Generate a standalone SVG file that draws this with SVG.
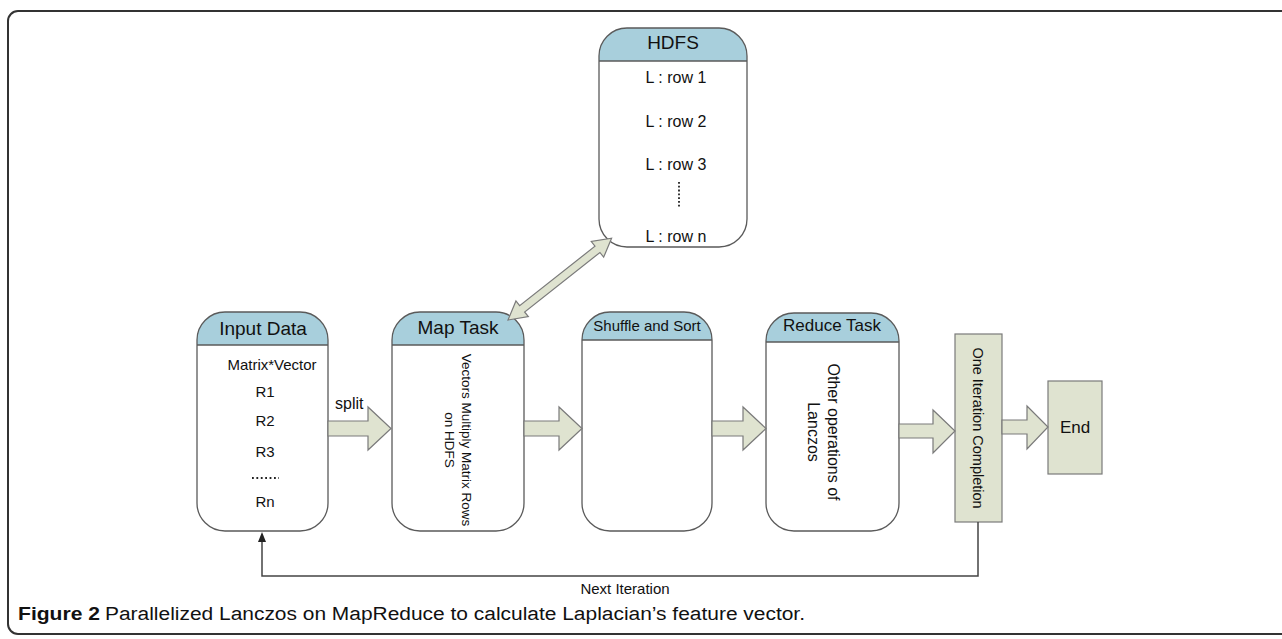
<svg xmlns="http://www.w3.org/2000/svg" width="1282" height="639" viewBox="0 0 1282 639">
<style>
.body{fill:#ffffff;stroke:none}
.hdr{fill:#a8cfdc;stroke:none}
.outline{fill:none;stroke:#5a5a5a;stroke-width:1.3}
.hline{stroke:#5a5a5a;stroke-width:1.3}
.blk{fill:#dfe3d0;stroke:#7a7a7a;stroke-width:1.2}
.t{font-family:"Liberation Sans",Arial,sans-serif;fill:#111}
.mid{text-anchor:middle}
.frame{fill:none;stroke:#333;stroke-width:2}
.conn{fill:none;stroke:#444;stroke-width:1.5}
</style>
<path class="frame" d="M1282,11 H18 A10,10 0 0 0 8,21 V624 A10,10 0 0 0 18,634 H1282"/>

<g id="hdfs">
<path class="body" d="M627,28 H719 A28,28 0 0 1 747,56 V219 A28,28 0 0 1 719,247 H627 A28,28 0 0 1 599,219 V56 A28,28 0 0 1 627,28 Z"/>
<path class="hdr" d="M599,61 V56 A28,28 0 0 1 627,28 H719 A28,28 0 0 1 747,56 V61 Z"/>
<line class="hline" x1="599" y1="61" x2="747" y2="61"/>
<path class="outline" d="M627,28 H719 A28,28 0 0 1 747,56 V219 A28,28 0 0 1 719,247 H627 A28,28 0 0 1 599,219 V56 A28,28 0 0 1 627,28 Z"/>
<text class="t mid" x="673" y="49" font-size="19">HDFS</text>
<text class="t mid" x="676" y="83" font-size="16">L : row 1</text>
<text class="t mid" x="676" y="127" font-size="16">L : row 2</text>
<text class="t mid" x="676" y="170" font-size="16">L : row 3</text>
<line x1="679" y1="182" x2="679" y2="208" stroke="#222" stroke-width="1.8" stroke-dasharray="1.8,2"/>
<text class="t mid" x="676" y="242" font-size="16">L : row n</text>
</g>

<g id="input-data">
<path class="body" d="M225,312 H300 A28,28 0 0 1 328,340 V503 A28,28 0 0 1 300,531 H225 A28,28 0 0 1 197,503 V340 A28,28 0 0 1 225,312 Z"/>
<path class="hdr" d="M197,345 V340 A28,28 0 0 1 225,312 H300 A28,28 0 0 1 328,340 V345 Z"/>
<line class="hline" x1="197" y1="345" x2="328" y2="345"/>
<path class="outline" d="M225,312 H300 A28,28 0 0 1 328,340 V503 A28,28 0 0 1 300,531 H225 A28,28 0 0 1 197,503 V340 A28,28 0 0 1 225,312 Z"/>
<text class="t mid" x="263" y="335" font-size="19">Input Data</text>
<text class="t mid" x="272" y="370" font-size="15">Matrix*Vector</text>
<text class="t mid" x="265" y="397" font-size="15">R1</text>
<text class="t mid" x="265" y="426" font-size="15">R2</text>
<text class="t mid" x="265" y="457" font-size="15">R3</text>
<line x1="252" y1="478" x2="279" y2="478" stroke="#222" stroke-width="1.8" stroke-dasharray="1.8,2.6"/>
<text class="t mid" x="265" y="507" font-size="15">Rn</text>
</g>

<g id="map-task">
<path class="body" d="M420,312 H496 A28,28 0 0 1 524,340 V503 A28,28 0 0 1 496,531 H420 A28,28 0 0 1 392,503 V340 A28,28 0 0 1 420,312 Z"/>
<path class="hdr" d="M392,345 V340 A28,28 0 0 1 420,312 H496 A28,28 0 0 1 524,340 V345 Z"/>
<line class="hline" x1="392" y1="345" x2="524" y2="345"/>
<path class="outline" d="M420,312 H496 A28,28 0 0 1 524,340 V503 A28,28 0 0 1 496,531 H420 A28,28 0 0 1 392,503 V340 A28,28 0 0 1 420,312 Z"/>
<text class="t mid" x="458" y="334" font-size="19">Map Task</text>
<text class="t mid" font-size="13.5" transform="translate(462,440) rotate(90)">Vectors Multiply Matrix Rows</text>
<text class="t mid" font-size="13.5" transform="translate(445,440) rotate(90)">on HDFS</text>
</g>

<g id="shuffle-sort">
<path class="body" d="M610,312 H684 A28,28 0 0 1 712,340 V503 A28,28 0 0 1 684,531 H610 A28,28 0 0 1 582,503 V340 A28,28 0 0 1 610,312 Z"/>
<path class="hdr" d="M582,340 A28,28 0 0 1 610,312 H684 A28,28 0 0 1 712,340 Z"/>
<line class="hline" x1="582" y1="340" x2="712" y2="340"/>
<path class="outline" d="M610,312 H684 A28,28 0 0 1 712,340 V503 A28,28 0 0 1 684,531 H610 A28,28 0 0 1 582,503 V340 A28,28 0 0 1 610,312 Z"/>
<text class="t mid" x="647" y="331" font-size="15">Shuffle and Sort</text>
</g>

<g id="reduce-task">
<path class="body" d="M794,313 H871 A28,28 0 0 1 899,341 V503 A28,28 0 0 1 871,531 H794 A28,28 0 0 1 766,503 V341 A28,28 0 0 1 794,313 Z"/>
<path class="hdr" d="M766,342 V341 A28,28 0 0 1 794,313 H871 A28,28 0 0 1 899,341 V342 Z"/>
<line class="hline" x1="766" y1="342" x2="899" y2="342"/>
<path class="outline" d="M794,313 H871 A28,28 0 0 1 899,341 V503 A28,28 0 0 1 871,531 H794 A28,28 0 0 1 766,503 V341 A28,28 0 0 1 794,313 Z"/>
<text class="t mid" x="832" y="331" font-size="17">Reduce Task</text>
<text class="t mid" font-size="16" transform="translate(828,432) rotate(90)">Other operations of</text>
<text class="t mid" font-size="16" transform="translate(808,432) rotate(90)">Lanczos</text>
</g>

<g id="one-iteration">
<rect class="blk" x="955" y="334" width="47" height="188"/>
<text class="t mid" font-size="14.5" transform="translate(973,428) rotate(90)">One Iteration Completion</text>
</g>

<g id="end">
<rect class="blk" x="1048" y="381" width="54" height="93"/>
<text class="t mid" x="1075" y="433" font-size="17">End</text>
</g>

<g id="connectors">
<polygon class="blk" points="328,421 368,421 368,407 391,428.5 368,450 368,436 328,436"/>
<polygon class="blk" points="524,421 559,421 559,407 582,428.5 559,450 559,436 524,436"/>
<polygon class="blk" points="712,421 743,421 743,407 766,428.5 743,450 743,436 712,436"/>
<polygon class="blk" points="899,424 933,424 933,410 955,431 933,453 933,438 899,438"/>
<polygon class="blk" points="1002,420 1027,420 1027,406 1048,427 1027,449 1027,434 1002,434"/>
<polygon class="blk" transform="translate(508,320) rotate(-38.3)" points="0,0 18,-10 18,-4 114,-4 114,-10 132,0 114,10 114,4 18,4 18,10"/>
<polyline class="conn" points="978,522 978,576 262,576 262,541"/>
<polygon points="262,532 258,542 266,542" fill="#222"/>
<text class="t" x="335" y="409" font-size="16">split</text>
<text class="t mid" x="625" y="594" font-size="15">Next Iteration</text>
</g>

<text class="t" x="18" y="620" font-size="18" font-weight="bold" textLength="82" lengthAdjust="spacingAndGlyphs">Figure 2</text>
<text class="t" x="105" y="620" font-size="18" textLength="700" lengthAdjust="spacingAndGlyphs">Parallelized Lanczos on MapReduce to calculate Laplacian’s feature vector.</text>
</svg>
